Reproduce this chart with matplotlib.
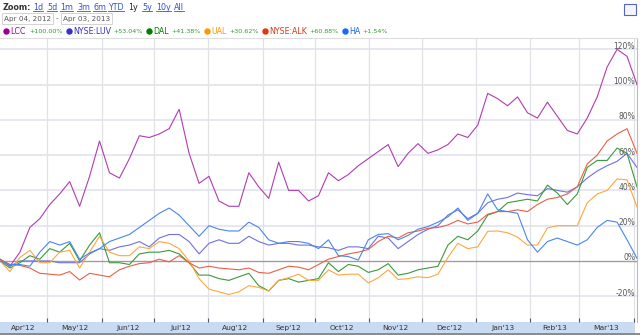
import numpy as np
import pandas as pd
import matplotlib
matplotlib.use('Agg')
import matplotlib.pyplot as plt
from matplotlib.patches import Rectangle, FancyArrowPatch
from matplotlib.lines import Line2D

# percent change since Apr 04, 2012, sampled evenly up to Apr 03, 2013
lcc = [1, -3, 5, 19, 24, 32, 38, 45, 31, 48, 68, 50, 47, 58, 71, 70, 72, 75, 86, 61,
       44, 48, 34, 31, 31, 50, 42, 35.5, 56, 40, 40, 34, 37, 50, 45.5, 49, 54, 58, 62, 66,
       53.5, 61, 66.5, 61, 63, 66, 72, 70, 77, 95, 92, 88, 93, 84, 81, 90, 82, 74, 72, 81,
       93, 110, 120, 116, 100]
luv = [1, -3, 0, 0, 0, 0, -1, -1, -1, 4, 7, 6, 8, 9, 11, 8, 13, 15, 15, 11,
       4, 10, 12, 10, 10, 14, 11, 9, 10, 10, 9, 9, 8, 7.5, 6, 8, 8, 7, 14, 13,
       7, 11, 15, 18, 20, 26, 29, 24, 27, 33, 35, 36, 38.5, 37.6, 37, 41, 40, 39, 42, 47,
       51, 54, 56.5, 61, 53]
dal = [0, -4, -1, 3, 1, 7, 5, 10, 0, 9, 16, -1, -1, -2, 4, 5, 5, 6, 4, -1,
       -8, -8, -10, -11, -9, -7, -14, -17, -11, -10, -12, -11, -10, -1, -6, -2, -3, -6.5, -5, -1.5,
       -8, -7, -5, -4, -3, 9, 14, 12, 17, 26, 28, 33, 34, 35, 34, 43, 38.5, 32, 38, 53,
       57, 57, 64, 61, 42]
ual = [0, -6, 2, 6, -1, -1, 5, 6, -4, 5, 14, 5, 3, 3, 8, 7, 11, 10, 7, 0,
       -10, -16, -17.5, -19, -17.5, -14, -15, -17, -11, -9.5, -7.5, -11, -11, -5, -8, -7.5, -7.5, -12.5, -9.5, -5,
       -10.5, -10, -9, -9.5, -7.5, 2, 10, 7, 8, 16.8, 17, 16, 13.5, 9, 9, 18.7, 20, 20, 20, 33,
       38, 40, 46.5, 46, 30.6]
alk = [1, -2, -2.5, -4, -7, -7.5, -8, -6, -10.8, -7, -8, -9, -5, -3, -1.5, -1, 1, -0.5, 3, -1,
       -4, -3, -4, -4.5, -5, -4, -6.5, -7, -5, -3, -3.5, -5, -2, 1, 2.5, 4, 5, 6.5, 11, 14,
       13, 16, 17, 18.5, 19, 20.4, 23, 21, 22, 26.5, 28, 28, 29, 28, 32, 35, 36, 38, 42, 55,
       60, 68, 72, 75, 61]
ha = [0, -2, -2, -3, 5, 11, 9, 11, 1, 4.5, 7, 11, 13, 15, 19, 23, 27, 30, 26, 20,
      14, 20, 18, 17, 17, 22, 19, 12, 10, 11, 11, 10, 7, 12, 3, 2.5, 0.5, 12, 15, 15.5,
      12, 14.5, 18, 19.5, 22, 25, 30, 23, 27, 38, 29, 28, 27, 12, 5, 11, 13, 11, 9, 12,
      19, 23, 22, 12, 1.5]

names = ['LCC', 'NYSE:LUV', 'DAL', 'UAL', 'NYSE:ALK', 'HA']
changes = [100.00, 53.04, 41.38, 30.62, 60.88, 1.54]
series = [lcc, luv, dal, ual, alk, ha]
line_colors = ['#b03cb0', '#7070e0', '#3a9a3a', '#ffa640', '#e86048', '#4a86ea']
dot_colors = ['#990099', '#3333cc', '#008000', '#ff9900', '#dc3912', '#1a66ff']

zoom_links = ['1d', '5d', '1m', '3m', '6m', 'YTD', '1y', '5y', '10y', 'All']
y_levels = [-20, 0, 20, 40, 60, 80, 100, 120]

W, H = 640, 335
def fx(x):
    return x / W
def fy(y):
    return 1 - y / H

fig = plt.figure(figsize=(6.4, 3.35), dpi=100)
ax = fig.add_axes([0, fy(322), 637 / W, (322 - 38) / H])

start, end = pd.Timestamp('2012-04-04'), pd.Timestamp('2013-04-03')
dates = pd.date_range(start, end, periods=len(lcc))
ax.set_xlim(start, end)
ax.set_ylim(-34.6, 126.4)

# grid
for v in y_levels:
    if v == 0:
        ax.axhline(0, color='#a89a9a', lw=1.0, zorder=1)
    else:
        ax.axhline(v, color='#e3e3f0', lw=1.2, zorder=0)
month_starts = pd.date_range('2012-05-01', '2013-04-01', freq='MS')
for m in month_starts:
    ax.axvline(m, color='#dfe2e6', lw=0.9, zorder=0)
ax.set_xticks(month_starts)
ax.set_xticklabels([])
ax.set_yticks([])
ax.tick_params(axis='x', direction='in', length=3, color='#555555', width=0.8)
for s in ['left', 'bottom']:
    ax.spines[s].set_visible(False)
ax.spines['top'].set_color('#dddddd')
ax.spines['right'].set_color('#bbbbbb')

for vals, c in zip(series, line_colors):
    ax.plot(dates, vals, color=c, lw=0.8, zorder=3)

for v in y_levels:
    ax.text(0.997, v + 1.7, f'{v}%', transform=ax.get_yaxis_transform(),
            ha='right', va='center', fontsize=5.5, color='#555555', zorder=2)

# month labels in the band
month_all = pd.date_range('2012-04-01', '2013-04-01', freq='MS')
for a, b in zip(month_all[:-1], month_all[1:]):
    a2, b2 = max(a, start), min(b, end)
    mid = a2 + (b2 - a2) / 2
    ax.text(mid, -6 / 284, a.strftime("%b'%y"), transform=ax.get_xaxis_transform(),
            ha='center', va='center', fontsize=5.4, color='#333333')

fig.patches.append(Rectangle((0, fy(333)), 635 / W, 11 / H, transform=fig.transFigure,
                             fc='#c8dbf3', ec='none', zorder=-1))
fig.patches.append(Rectangle((0, 0), 1, 2 / H, transform=fig.transFigure,
                             fc='#8c8c8c', ec='none'))

# header: zoom links
fig.text(fx(3), fy(7), 'Zoom:', fontsize=5.8, fontweight='bold', color='#333333',
         ha='left', va='center')
link_x = [33, 47, 60, 77, 93, 108, 128, 142, 156, 174]
links = []
for lab, x in zip(zoom_links, link_x):
    col = '#222222' if lab == '1y' else '#3355cc'
    t = fig.text(fx(x), fy(7), lab, fontsize=5.8, color=col, ha='left', va='center')
    if lab != '1y':
        links.append(t)

# underline the links
fig.canvas.draw()
r = fig.canvas.get_renderer()
for t in links:
    bb = t.get_window_extent(r)
    fig.add_artist(Line2D([bb.x0 / W, bb.x1 / W], [fy(11), fy(11)],
                          transform=fig.transFigure, color='#3355cc', lw=0.6))

# date range boxes
for x0, txt in [(2, 'Apr 04, 2012'), (61, 'Apr 03, 2013')]:
    fig.patches.append(Rectangle((fx(x0), fy(24)), 51 / W, 11 / H, transform=fig.transFigure,
                                 fc='white', ec='#cccccc', lw=0.6))
    fig.text(fx(x0 + 2), fy(18.5), txt, fontsize=5.2, color='#555555', ha='left', va='center')
fig.text(fx(57), fy(18.5), '-', fontsize=5.2, color='#555555', ha='center', va='center')

# legend row
dot_x = [6, 69, 149, 207, 265, 345]
name_x = [10, 73, 153, 211, 269, 349]
pct_x = [29, 113, 171, 229, 309, 362]
for n, ch, dc, dx, nx, px in zip(names, changes, dot_colors, dot_x, name_x, pct_x):
    fig.add_artist(Line2D([fx(dx)], [fy(31)], transform=fig.transFigure, marker='o',
                          markersize=4.6, color=dc, markeredgewidth=0))
    fig.text(fx(nx), fy(31), n, fontsize=5.7, color=dc, ha='left', va='center')
    fig.text(fx(px), fy(31.3), f'+{ch:.2f}%', fontsize=4.6, color='#339933',
             ha='left', va='center')

# expand icon
fig.patches.append(Rectangle((fx(624), fy(15)), 12 / W, 11 / H, transform=fig.transFigure,
                             fc='#f4f6ff', ec='#5566bb', lw=0.8))
fig.add_artist(FancyArrowPatch((fx(626.5), fy(6.5)), (fx(633.5), fy(13)),
                               transform=fig.transFigure, arrowstyle='<->',
                               mutation_scale=4, color='#334499', lw=0.8))

fig.savefig('out.png', dpi=100)
